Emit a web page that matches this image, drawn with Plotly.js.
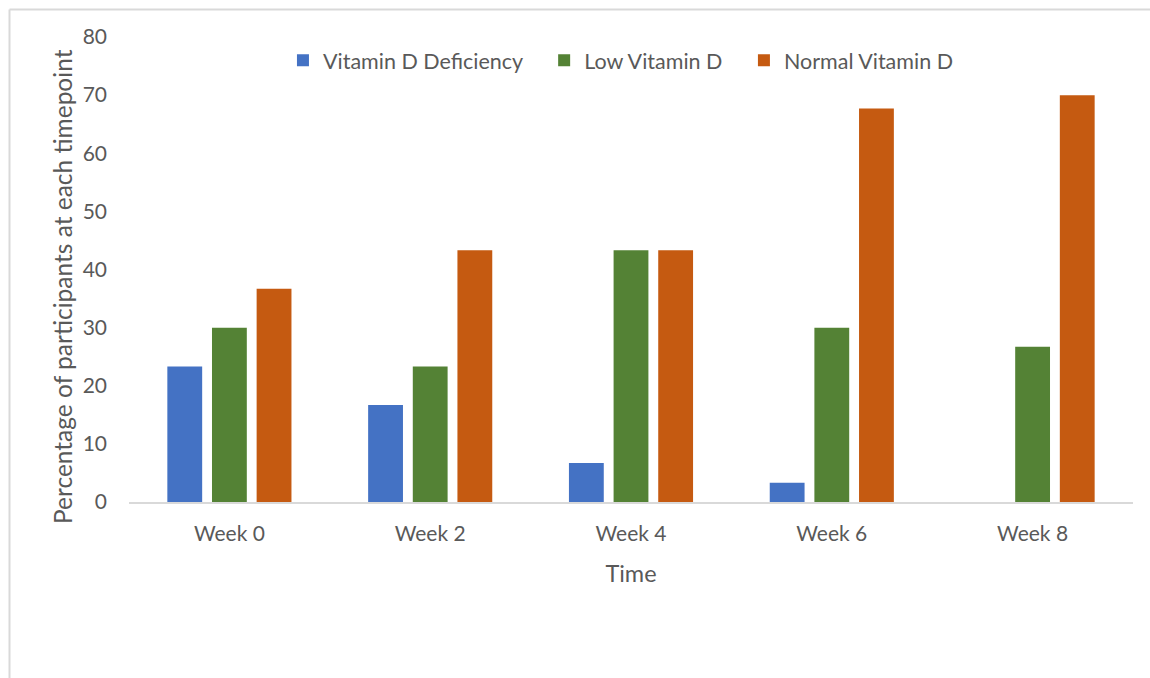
<!DOCTYPE html>
<html>
<head>
<meta charset="utf-8">
<script src="https://cdn.plot.ly/plotly-3.0.1.min.js"></script>
<style>
html,body{margin:0;padding:0;background:#fff;}
#chart{width:1150px;height:678px;}
</style>
</head>
<body>
<div id="chart"></div>
<script>
var categories = ["Week 0", "Week 2", "Week 4", "Week 6", "Week 8"];
var deficiency = [23.3, 16.7, 6.7, 3.3, 0];
var lowVitD = [30, 23.3, 43.3, 30, 26.7];
var normalVitD = [36.7, 43.3, 43.3, 67.7, 70];
var seriesNames = ["Vitamin D Deficiency", "Low Vitamin D", "Normal Vitamin D"];
var seriesColors = ["#4472C4", "#548235", "#C55A11"];
var yTicks = [0, 10, 20, 30, 40, 50, 60, 70, 80];
var yTitle = "Percentage of participants at each timepoint";
var xTitle = "Time";

var values = [deficiency, lowVitD, normalVitD];
var traces = values.map(function(v, i){
  var pad = (i < values.length - 1) ? "\u00a0\u00a0\u00a0" : "";
  return {
    type: "bar",
    x: categories,
    y: v,
    name: seriesNames[i] + pad,
    marker: {color: seriesColors[i], line: {width: 0}},
    hoverinfo: "x+y"
  };
});

var font = "Lato, 'Open Sans', sans-serif";
var layout = {
  width: 1150,
  height: 678,
  margin: {l: 129, r: 17, t: 37, b: 176},
  paper_bgcolor: "#ffffff",
  plot_bgcolor: "#ffffff",
  barmode: "group",
  bargap: 0.333,
  bargroupgap: 0.22,
  font: {family: font, color: "#595959", size: 21},
  showlegend: true,
  legend: {
    orientation: "h",
    x: 0.49, xanchor: "center",
    y: 0.95, yanchor: "middle",
    font: {family: font, size: 21.5, color: "#595959"},
    itemwidth: 30,
    traceorder: "normal",
    bgcolor: "rgba(0,0,0,0)"
  },
  xaxis: {
    type: "category",
    showgrid: false,
    showline: true,
    linecolor: "#d9d9d9",
    linewidth: 2,
    ticks: "",
    ticklabelstandoff: 12,
    tickfont: {family: font, size: 21, color: "#595959"},
    title: {text: xTitle, font: {family: font, size: 23.5, color: "#595959"}, standoff: 21},
    fixedrange: true
  },
  yaxis: {
    range: [0, 80],
    tickvals: yTicks,
    showgrid: false,
    zeroline: false,
    showline: false,
    ticks: "",
    ticklabelstandoff: 21,
    tickfont: {family: font, size: 21, color: "#595959"},
    fixedrange: true
  },
  annotations: [
    {text: yTitle, xref: "paper", yref: "paper", x: (62-129)/1004, y: (502-287)/465,
     xanchor: "center", yanchor: "middle", textangle: -90, showarrow: false,
     font: {family: font, size: 24.5, color: "#595959"}}
  ],
  shapes: [
    {type: "line", xref: "paper", yref: "paper", x0: (9.5-129)/1004, x1: (9.5-129)/1004, y0: (502-9.5)/465, y1: -176/465 - 0.01, line: {color: "#d9d9d9", width: 2}},
    {type: "line", xref: "paper", yref: "paper", x0: (9.5-129)/1004, x1: 1.02, y0: (502-9.5)/465, y1: (502-9.5)/465, line: {color: "#d9d9d9", width: 2}}
  ]
};

Plotly.newPlot("chart", traces, layout, {displayModeBar: false, staticPlot: true});
</script>
</body>
</html>
